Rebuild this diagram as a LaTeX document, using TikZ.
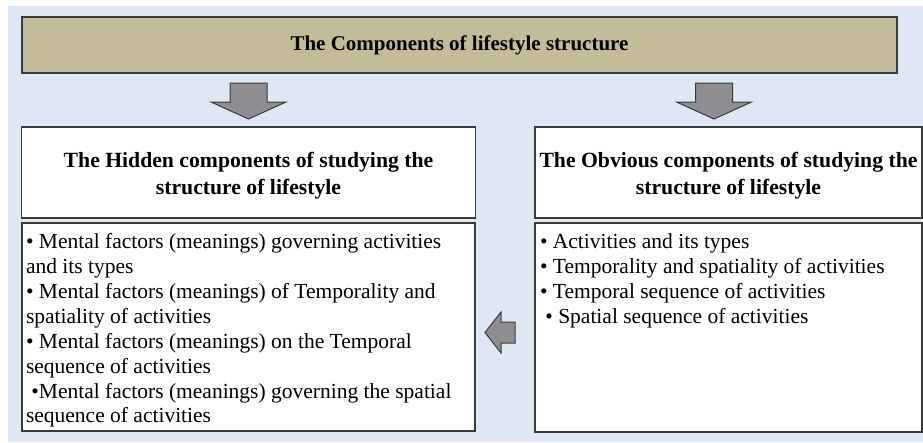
\documentclass[tikz,border=0pt]{standalone}
\usepackage{fontspec}
\setmainfont{Liberation Serif}
\usetikzlibrary{positioning}
\definecolor{bgblue}{HTML}{DDE8F4}
\definecolor{titletan}{HTML}{C4BC98}
\definecolor{arrgray}{HTML}{8E8E92}
\definecolor{edgegray}{HTML}{3A3A3A}
\tikzset{
  box/.style={draw=edgegray, line width=1.5pt, fill=white, inner sep=0pt, outer sep=0pt},
  headbox/.style={box, minimum height=91pt, align=flush center, text depth=26pt,
    font=\fontsize{21.7}{27}\selectfont\bfseries},
  itembox/.style={box, anchor=north west, inner ysep=10.5pt,
    font=\fontsize{21.5}{24.9}\selectfont},
  blockarrow/.style={draw=edgegray, fill=arrgray, line width=1pt},
  downarr/.pic={\draw[blockarrow] (-18.5,0) -- (18.5,0) -- (18.5,19) -- (37.5,19)
    -- (0,36) -- (-37.5,19) -- (-18.5,19) -- cycle;}
}
\begin{document}
\begin{tikzpicture}[x=1pt,y=-1pt]
	\useasboundingbox (0,0) rectangle (923,442);
	\fill[bgblue] (8,6) rectangle (923,442);
	% title
	\node[box, fill=titletan, minimum width=875pt, minimum height=56pt,
	  font=\fontsize{21}{25}\selectfont\bfseries] (title) at (459.5,45) {The Components of lifestyle structure};
	% the two headers
	\node[headbox, inner xsep=4pt, text width=446pt] (hidden) at (248.5,172.5) {The Hidden components of studying the\\ structure of lifestyle};
	\node[headbox, inner xsep=1.5pt, text width=384pt] (obvious) at (728.5,172.5) {The Obvious components of studying the\\ structure of lifestyle};
	% the two lists
	\node[itembox, inner xsep=4pt] (hiddenlist) at (22,223) {\parbox[c][187pt][t]{445pt}{%
	  \raggedright
	  • Mental factors (meanings) governing activities and its types\\
	  • Mental factors (meanings) of Temporality and spatiality of activities\\
	  • Mental factors (meanings) on the Temporal sequence of activities\\
	  \ •Mental factors (meanings) governing the spatial sequence of activities}};
	\node[itembox, inner xsep=5pt] (obviouslist) at (535,223) {\parbox[c][188pt][t]{377pt}{%
	  \raggedright
	  • Activities and its types\\
	  • Temporality and spatiality of activities\\
	  • Temporal sequence of activities\\
	  \ • Spatial sequence of activities}};
	% arrows
	\pic at (248.5,83) {downarr};
	\pic at (714,83) {downarr};
	\draw[blockarrow] (515,322) -- (501,322) -- (501,312) -- (485,332.5)
	  -- (501,353) -- (501,343) -- (515,343) -- cycle;
\end{tikzpicture}
\end{document}
